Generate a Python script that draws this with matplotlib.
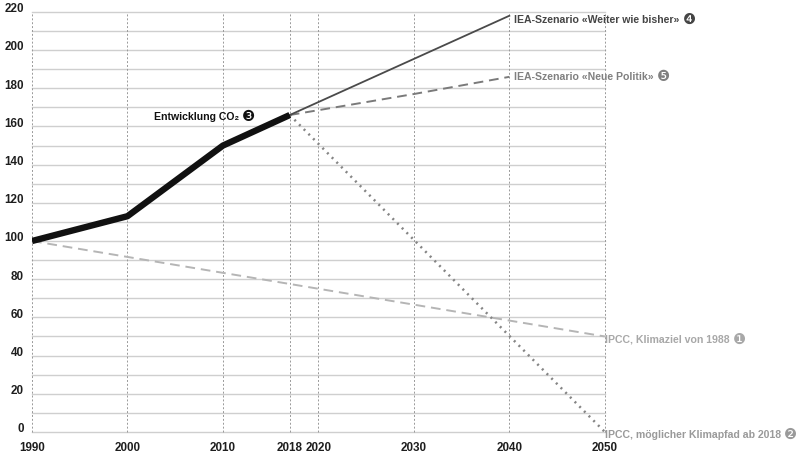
import numpy as np
import matplotlib.pyplot as plt
from matplotlib.ticker import MultipleLocator
from matplotlib.transforms import ScaledTranslation

# Daten (Index 1990 = 100)
co2_years = [1990, 2000, 2010, 2018]
co2_values = [100, 113, 150, 166]

bisher_years = [2018, 2040]
bisher_values = [166, 218]

politik_years = [2018, 2030, 2040]
politik_values = [166, 177, 186]

ziel_years = [1990, 2050]
ziel_values = [100, 50]

pfad_years = [2018, 2050]
pfad_values = [166, 0]

x_ticks = [1990, 2000, 2010, 2018, 2020, 2030, 2040, 2050]

# die Vorlage setzt 2018 etwas nach links (wie 2017) -> stueckweise lineare Achse
brk_year = [1990, 2010, 2018, 2020, 2050]
brk_pos = [1990, 2010, 2017, 2020, 2050]


def fwd(x):
    return np.interp(x, brk_year, brk_pos)


def inv(x):
    return np.interp(x, brk_pos, brk_year)


font = ['Liberation Sans Narrow', 'Liberation Sans', 'DejaVu Sans']
tick_font = ['Liberation Sans', 'DejaVu Sans']

fig = plt.figure(figsize=(8, 4.59), dpi=100)
ax = fig.add_axes([0.04, 0.059, 0.716, 0.915])
ax.set_xscale('function', functions=(fwd, inv))

ax.set_xlim(1990, 2050)
ax.set_ylim(0, 220)

# Gitter
for y in range(0, 221, 10):
    ax.axhline(y, color='#cfcfcf', lw=1.0, zorder=1, clip_on=False)
for x in x_ticks:
    ax.axvline(x, color='#999999', lw=0.7, ls=(0, (2, 2)), zorder=1, clip_on=False)

# Linien
ax.plot(ziel_years, ziel_values, color='#b5b5b5', lw=1.4, ls=(0, (5, 3)), zorder=2)
ax.plot(pfad_years, pfad_values, color='#858585', lw=1.8, ls=(0, (0.8, 1.85)),
        dash_capstyle='butt', zorder=2)
ax.plot(politik_years, politik_values, color='#7a7a7a', lw=1.4, ls=(0, (5, 3)), zorder=3)
ax.plot(bisher_years, bisher_values, color='#4a4a4a', lw=1.3, zorder=3)
ax.plot(co2_years, co2_values, color='#111111', lw=4.6, solid_capstyle='butt', zorder=4)


def label(x, y, txt, num, color, ha='left'):
    t = ax.text(x, y, txt, ha=ha, va='center', fontsize=7.6, fontweight='bold',
                color=color, family=font, clip_on=False, zorder=5)
    ax.annotate(num, xy=(1, 0.5), xycoords=t, xytext=(2.2, 0), textcoords='offset points',
                ha='left', va='center', fontsize=10.5, color=color, family=['DejaVu Sans'],
                annotation_clip=False)


# Beschriftungen
label(2011.9, 165, 'Entwicklung CO\u2082', '\u2778', '#111111', ha='right')
label(2040.5, 216, 'IEA-Szenario \u00abWeiter wie bisher\u00bb', '\u2779', '#454545')
label(2040.5, 186, 'IEA-Szenario \u00abNeue Politik\u00bb', '\u277a', '#808080')
label(2050.6, 48.5, 'IPCC, Klimaziel von 1988', '\u2776', '#a8a8a8')
label(2050.8, -1.5, 'IPCC, m\u00f6glicher Klimapfad ab 2018', '\u2777', '#9a9a9a')

# Achsen
for s in ax.spines.values():
    s.set_visible(False)
ax.set_xticks(x_ticks)
ax.set_xticklabels([str(x) for x in x_ticks])
ax.xaxis.set_minor_locator(plt.NullLocator())
ax.yaxis.set_major_locator(MultipleLocator(20))
ax.tick_params(axis='x', length=0, pad=7)
ax.tick_params(axis='y', length=0, pad=6)
for lab in ax.get_xticklabels() + ax.get_yticklabels():
    lab.set_fontweight('bold')
    lab.set_fontsize(8.4)
    lab.set_family(tick_font)
    lab.set_color('#1e1e1e')
for lab in ax.get_yticklabels():
    lab.set_transform(lab.get_transform() + ScaledTranslation(0, 3 / 72, fig.dpi_scale_trans))

fig.savefig('out.png', dpi=100)
